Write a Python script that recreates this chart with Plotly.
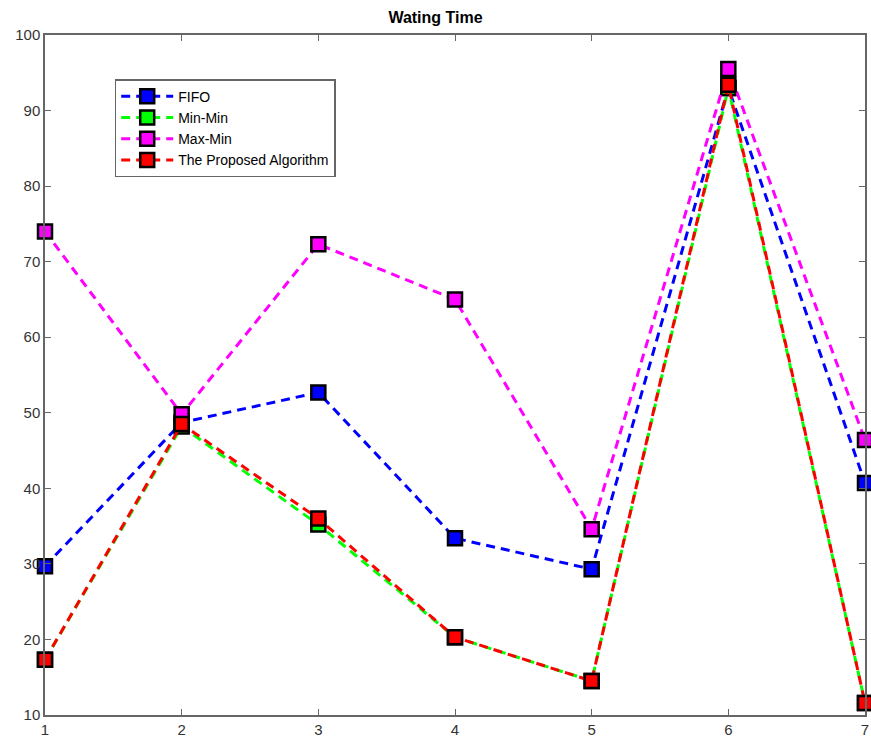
import plotly.graph_objects as go

x = [1, 2, 3, 4, 5, 6, 7]
fifo = [29.7, 48.7, 52.7, 33.4, 29.3, 93.0, 40.7]
min_min = [17.3, 48.2, 35.2, 20.3, 14.5, 93.0, 11.6]
max_min = [74.0, 49.8, 72.3, 65.0, 34.6, 95.5, 46.4]
proposed = [17.3, 48.5, 36.0, 20.3, 14.5, 93.4, 11.6]

series = [
    ("FIFO", fifo, "#0000ff"),
    ("Min-Min", min_min, "#00ff00"),
    ("Max-Min", max_min, "#ff00ff"),
    ("The Proposed Algorithm", proposed, "#ff0000"),
]

fig = go.Figure()
for name, vals, col in series:
    fig.add_trace(go.Scatter(
        x=x, y=vals, name=name, mode="lines+markers",
        line=dict(color=col, width=3, dash="9px,6px"),
        marker=dict(symbol="square", size=14, color=col,
                    line=dict(color="black", width=2.5)),
        cliponaxis=False,
    ))

axis_common = dict(
    showline=True, linecolor="#666666", linewidth=1.5, mirror="allticks",
    ticks="inside", ticklen=6, tickcolor="#666666", tickwidth=1.2,
    showgrid=False, zeroline=False, automargin=False,
    tickfont=dict(family="Arial, Liberation Sans, sans-serif", size=15, color="#333333"),
)

fig.update_layout(
    width=871, height=742,
    paper_bgcolor="white", plot_bgcolor="white",
    margin=dict(l=45, r=6, t=35, b=27),
    title=dict(text="<b>Wating Time</b>", x=0.5, xanchor="center", y=0.977, yanchor="middle",
               font=dict(family="Arial, Liberation Sans, sans-serif", size=16, color="black")),
    xaxis=dict(range=[1, 7], tickvals=x, **axis_common),
    yaxis=dict(range=[10, 100], tickvals=list(range(10, 101, 10)), **axis_common),
    legend=dict(x=0.085, y=0.935, xanchor="left", yanchor="top",
                bgcolor="white", bordercolor="#666666", borderwidth=1.5,
                font=dict(family="Arial, Liberation Sans, sans-serif", size=14, color="black"),
                tracegroupgap=0, itemwidth=52),
    showlegend=True,
)

fig.write_html("out.html", config={"displayModeBar": False},
               post_script="document.body.style.margin='0';document.body.style.overflow='hidden';")
